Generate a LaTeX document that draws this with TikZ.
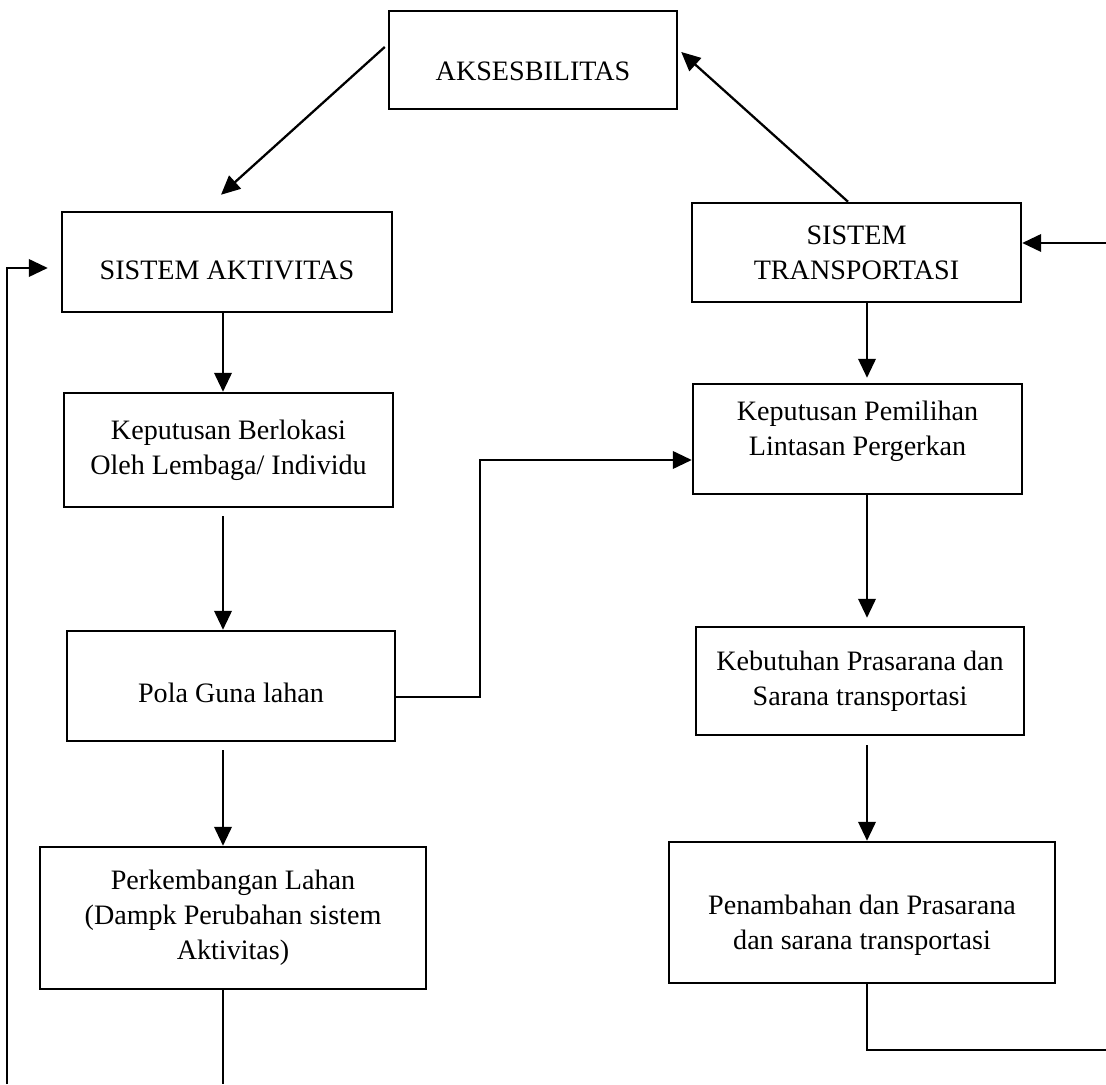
\documentclass[tikz,border=0pt]{standalone}
\usepackage{fontspec}
\setmainfont{Liberation Serif}
\usetikzlibrary{arrows.meta,positioning,calc}
\newcommand{\textdrop}[2]{\raisebox{#1}[\height][\depth]{\begin{tabular}{@{}c@{}}#2\end{tabular}}}
\tikzset{
  box/.style={draw=black, line width=1.4pt, align=center, inner sep=3pt, font=\fontsize{16}{20}\selectfont},
  arr/.style={-{Triangle[length=3.8mm,width=3.5mm]}, line width=1.3pt},
  conn/.style={line width=1.3pt},
}

\begin{document}
\begin{tikzpicture}
  \useasboundingbox (0,0) rectangle (22.12,21.68);
  \node[box, minimum width=5.76cm, minimum height=1.96cm] (aks) at (10.66,20.48) {\textdrop{-0.26cm}{AKSESBILITAS}};
  \node[box, minimum width=6.6cm, minimum height=2.0cm] (sak) at (4.54,16.44) {\textdrop{-0.2cm}{SISTEM AKTIVITAS}};
  \node[box, minimum width=6.58cm, minimum height=1.98cm] (str) at (17.13,16.63) {SISTEM\\TRANSPORTASI};
  \node[box, minimum width=6.58cm, minimum height=2.28cm] (lok) at (4.57,12.68) {Keputusan Berlokasi\\Oleh Lembaga/ Individu};
  \node[box, minimum width=6.58cm, minimum height=2.2cm] (lin) at (17.15,12.90) {\textdrop{0.16cm}{Keputusan Pemilihan\\Lintasan Pergerkan}};
  \node[box, minimum width=6.56cm, minimum height=2.2cm] (pola) at (4.62,7.96) {\textdrop{-0.18cm}{Pola Guna lahan}};
  \node[box, minimum width=6.56cm, minimum height=2.16cm] (butuh) at (17.20,8.06) {Kebutuhan Prasarana dan\\Sarana transportasi};
  \node[box, minimum width=7.72cm, minimum height=2.84cm] (kembang) at (4.66,3.32) {Perkembangan Lahan\\(Dampk Perubahan sistem\\Aktivitas)};
  \node[box, minimum width=7.72cm, minimum height=2.82cm] (tambah) at (17.24,3.43) {\textdrop{-0.25cm}{Penambahan dan Prasarana\\dan sarana transportasi}};
  % free ends and bends
  \coordinate (lx) at (4.46,0);
  \coordinate (rx) at (17.34,0);
  \coordinate (loop) at (0.14,0);
  \coordinate (bend) at (9.6,12.48);
  \coordinate (inR) at (22.12,16.82);
  \coordinate (outR) at (22.12,0.68);
  % top triangle
  \draw[arr] ([xshift=-0.06cm,yshift=0.26cm]aks.west) -- ([xshift=-0.12cm,yshift=0.32cm]sak.north);
  \draw[arr] ([xshift=-0.17cm]str.north) -- ([xshift=0.06cm,yshift=0.16cm]aks.east);
  % left column
  \draw[arr] (sak.south -| lx) -- (lok.north -| lx);
  \draw[arr, shorten <=0.16cm] (lok.south -| lx) -- (pola.north -| lx);
  \draw[arr, shorten <=0.16cm] (pola.south -| lx) -- (kembang.north -| lx);
  \draw[conn] (kembang.south -| lx) -- (lx);
  \draw[arr, shorten >=0.26cm] (loop) |- ([yshift=-0.12cm]sak.west);
  % right column
  \draw[arr, shorten >=0.1cm] (str.south -| rx) -- (lin.north -| rx);
  \draw[arr, shorten >=0.16cm] (lin.south -| rx) -- (butuh.north -| rx);
  \draw[arr, shorten <=0.18cm] (butuh.south -| rx) -- (tambah.north -| rx);
  \draw[conn] (tambah.south -| rx) |- (outR);
  \draw[arr] (inR) -- (str.east |- inR);
  % cross link
  \draw[arr] ([yshift=-0.22cm]pola.east) -| (bend) -- (lin.west |- bend);
\end{tikzpicture}
\end{document}
